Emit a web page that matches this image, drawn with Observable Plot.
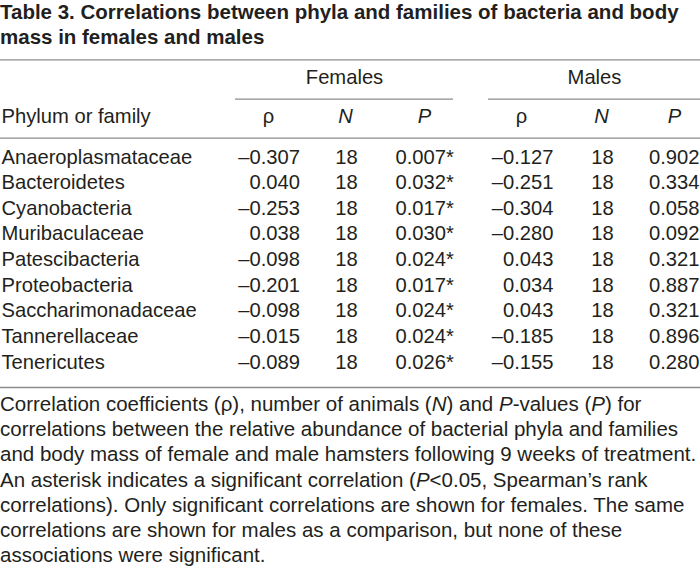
<!DOCTYPE html>
<html>
<head>
<meta charset="utf-8">
<script src="https://cdn.jsdelivr.net/npm/d3@7"></script>
<script src="https://cdn.jsdelivr.net/npm/@observablehq/plot@0.6"></script>
<style>
  html, body { margin: 0; padding: 0; background: #fff; }
  body { position: relative; width: 700px; height: 574px; overflow: hidden;
         font-family: "Liberation Sans", Arial, Helvetica, sans-serif; color: #231f20; }
  #title { position: absolute; left: 0; top: -1px; width: 700px; font-weight: bold;
           font-size: 20.5px; line-height: 25px; white-space: nowrap; }
  #chart { position: absolute; left: 0; top: 50px; }
  #caption { position: absolute; left: 0; top: 391px; width: 700px; font-size: 20.5px;
             line-height: 25.2px; white-space: nowrap; }
</style>
</head>
<body>
<div id="title"></div>
<div id="chart"></div>
<div id="caption"></div>
<script>
// ---------- data ----------
const titleLines = [
  "Table 3. Correlations between phyla and families of bacteria and body",
  "mass in females and males"
];
const groupLabels = ["Females", "Males"];
const stubHeader = "Phylum or family";
const columnLabels = ["ρ", "N", "P"];
const taxa = [
  "Anaeroplasmataceae", "Bacteroidetes", "Cyanobacteria", "Muribaculaceae",
  "Patescibacteria", "Proteobacteria", "Saccharimonadaceae", "Tannerellaceae", "Tenericutes"
];
const femaleRho = [-0.307, 0.040, -0.253, 0.038, -0.098, -0.201, -0.098, -0.015, -0.089];
const femaleN = [18, 18, 18, 18, 18, 18, 18, 18, 18];
const femaleP = [0.007, 0.032, 0.017, 0.030, 0.024, 0.017, 0.024, 0.024, 0.026];
const femaleSignificant = [true, true, true, true, true, true, true, true, true];
const maleRho = [-0.127, -0.251, -0.304, -0.280, 0.043, 0.034, 0.043, -0.185, -0.155];
const maleN = [18, 18, 18, 18, 18, 18, 18, 18, 18];
const maleP = [0.902, 0.334, 0.058, 0.092, 0.321, 0.887, 0.321, 0.896, 0.280];
const maleSignificant = [false, false, false, false, false, false, false, false, false];
const captionLines = [
  "Correlation coefficients (ρ), number of animals (<i>N</i>) and <i>P</i>-values (<i>P</i>) for",
  "correlations between the relative abundance of bacterial phyla and families",
  "and body mass of female and male hamsters following 9 weeks of treatment.",
  "An asterisk indicates a significant correlation (<i>P</i>&lt;0.05, Spearman’s rank",
  "correlations). Only significant correlations are shown for females. The same",
  "correlations are shown for males as a comparison, but none of these",
  "associations were significant."
];

// ---------- layout (page pixel coordinates) ----------
const layout = {
  svgTop: 50, svgBottom: 391, width: 700,
  topRuleY: 59.3, groupY: 83.3, groupRuleY: 98.7, headY: 122.7, headRuleY: 137.7,
  firstRowY: 163, rowStep: 25.66, bottomRuleY: 387,
  stubX: 1,
  groups: [
    {center: 344, rule: [235, 453], head: [268, 345, 424], rhoX: 299.5, nX: 346, pX: 395, pAnchor: "start"},
    {center: 594, rule: [488, 700], head: [521, 601, 674], rhoX: 553, nX: 602, pX: 699, pAnchor: "end"}
  ]
};
const ink = "#231f20";
const ruleColor = "#8c8c8c";
const fontSize = 20.2;

// ---------- build ----------
document.getElementById("title").innerHTML = titleLines.join("<br>");
document.getElementById("caption").innerHTML = captionLines.join("<br>");

const rowY = i => layout.firstRowY + i * layout.rowStep;
const fmtRho = v => (v < 0 ? "\u2013" : "") + Math.abs(v).toFixed(3);
const fmtP = (v, s) => v.toFixed(3) + (s ? "*" : "");

const groupsData = [
  {rho: femaleRho, n: femaleN, p: femaleP, sig: femaleSignificant},
  {rho: maleRho, n: maleN, p: maleP, sig: maleSignificant}
];

const rules = [
  {y: layout.topRuleY, x1: 0, x2: layout.width},
  {y: layout.headRuleY, x1: 0, x2: layout.width},
  {y: layout.bottomRuleY, x1: 0, x2: layout.width},
  ...layout.groups.map(g => ({y: layout.groupRuleY, x1: g.rule[0], x2: g.rule[1]}))
];

const stubCells = taxa.map((t, i) => ({x: layout.stubX, y: rowY(i), text: t}));
const rhoCells = [], nCells = [], pStart = [], pEnd = [];
groupsData.forEach((gd, gi) => {
  const g = layout.groups[gi];
  taxa.forEach((t, i) => {
    rhoCells.push({x: g.rhoX, y: rowY(i), text: fmtRho(gd.rho[i])});
    nCells.push({x: g.nX, y: rowY(i), text: String(gd.n[i])});
    (g.pAnchor === "start" ? pStart : pEnd).push({x: g.pX, y: rowY(i), text: fmtP(gd.p[i], gd.sig[i])});
  });
});

const groupHead = groupLabels.map((l, gi) => ({x: layout.groups[gi].center, y: layout.groupY, text: l}));
const rhoHead = layout.groups.map(g => ({x: g.head[0], y: layout.headY, text: columnLabels[0]}));
const italicHead = layout.groups.flatMap(g => [
  {x: g.head[1], y: layout.headY, text: columnLabels[1]},
  {x: g.head[2], y: layout.headY, text: columnLabels[2]}
]);
const stubHead = [{x: layout.stubX, y: layout.headY, text: stubHeader}];

const txt = (data, anchor, extra = {}) => Plot.text(data, {
  x: "x", y: "y", text: "text", textAnchor: anchor, lineAnchor: "bottom",
  fontSize, fill: ink, ...extra
});

const chart = Plot.plot({
  width: layout.width,
  height: layout.svgBottom - layout.svgTop,
  margin: 0,
  x: {type: "linear", domain: [0, layout.width], range: [0, layout.width], axis: null},
  y: {type: "linear", domain: [layout.svgTop, layout.svgBottom], range: [0, layout.svgBottom - layout.svgTop], axis: null},
  style: {fontFamily: "'Liberation Sans', Arial, Helvetica, sans-serif", fontSize: fontSize + "px", color: ink, background: "white", overflow: "visible"},
  marks: [
    Plot.ruleY(rules, {y: "y", x1: "x1", x2: "x2", stroke: ruleColor, strokeWidth: 1.3}),
    txt(groupHead, "middle"),
    txt(stubHead, "start"),
    txt(rhoHead, "middle"),
    txt(italicHead, "middle", {fontStyle: "italic"}),
    txt(stubCells, "start"),
    txt(rhoCells, "end"),
    txt(nCells, "middle"),
    txt(pStart, "start"),
    txt(pEnd, "end")
  ]
});
document.getElementById("chart").appendChild(chart);
</script>
</body>
</html>
